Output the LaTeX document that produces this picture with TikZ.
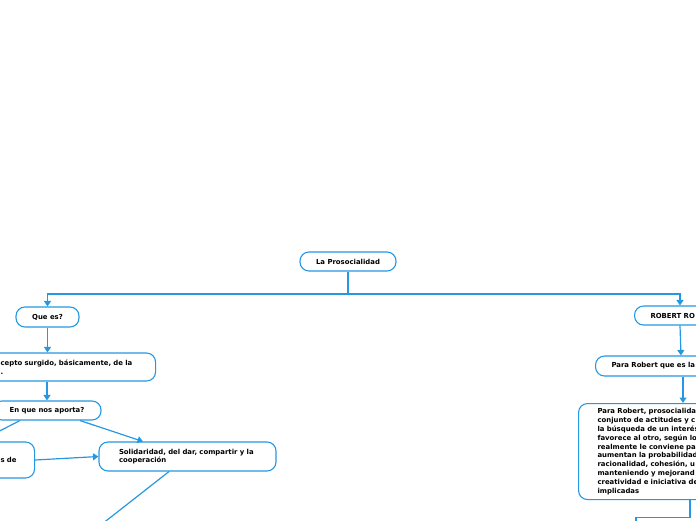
\documentclass[tikz,border=0pt]{standalone}
\usepackage{fontspec}
\setmainfont{DejaVu Sans}
\usetikzlibrary{arrows.meta}
\definecolor{mapblue}{RGB}{38,152,226}
\begin{document}
\begin{tikzpicture}[
  x=1pt, y=-1pt,
  font=\fontsize{6.9}{8.8}\selectfont\bfseries,
  box/.style={draw=mapblue, fill=white, line width=1.1pt, rounded corners=9pt,
              minimum height=19pt, inner ysep=2pt},
  leftbox/.style={box, align=left},
  flow/.style={-{Triangle[length=5.5pt, width=7pt]}, draw=mapblue, line width=1.2pt},
  link/.style={draw=mapblue, line width=1.2pt}
]
  \useasboundingbox (0,0) rectangle (696,520);
  \node[box, minimum width=96] (root) at (348,261.5) {La Prosocialidad};
  \node[box, minimum width=63, minimum height=20] (quees) at (47.5,317) {Que es?};
  \node[leftbox, anchor=west, minimum height=28, text width=145, inner xsep=10] (concepto) at (-10,367) {cepto surgido, básicamente, de la\\.};
  \node[box, minimum width=108] (aporta) at (47,410.5) {En que nos aporta?};
  \node[leftbox, anchor=west, minimum height=36, text width=24, inner xsep=10] (valores) at (-10,460) {s de};
  \node[leftbox, minimum height=29, text width=137, inner xsep=20] (solidaridad) at (187.5,456.5) {Solidaridad, del dar, compartir y la\\cooperación};
  \node[leftbox, anchor=west, text width=80, inner xsep=16] (robert) at (634,315.5) {ROBERT RO};
  \node[leftbox, anchor=west, minimum height=20, text width=100, inner xsep=16] (pararobert) at (595,366) {Para Robert que es la};
  \node[leftbox, anchor=north west, minimum height=96, text width=120, inner xsep=19] (definicion) at (578,403) {Para Robert, prosocialida\\conjunto de actitudes y c\\la búsqueda de un interés\\favorece al otro, según lo\\realmente le conviene pa\\aumentan la probabilidad\\racionalidad, cohesión, u\\manteniendo y mejorand\\creatividad e iniciativa de\\implicadas};
  \coordinate (hub) at (348,294);
  \coordinate (izq) at (-20,441);
  \coordinate (abajo) at (88,535);
  \coordinate (sigue) at (636,535);
  \draw[link] (root.south) -- (hub);
  \draw[flow] (hub) -| (quees.north);
  \draw[flow] (hub) -| ([xshift=46pt]robert.north west);
  \draw[flow] (quees.south) -- (quees.south |- concepto.north);
  \draw[flow] (aporta.north |- concepto.south) -- (aporta.north);
  \draw[flow] ([xshift=-27pt]aporta.south) -- (izq);
  \draw[flow] ([xshift=33pt]aporta.south) -- ([xshift=-44.5pt]solidaridad.north);
  \draw[flow] (valores.east) -- (solidaridad.west);
  \draw[flow] ([xshift=-18.5pt]solidaridad.south) -- (abajo);
  \draw[flow] ([xshift=46pt]robert.south west) -- ([xshift=86pt]pararobert.north west);
  \draw[flow] ([xshift=88pt]pararobert.south west) -- ([xshift=105pt]definicion.north west);
  \draw[flow] ([xshift=112pt]definicion.south west) -- ++(0,17) -| (sigue);
\end{tikzpicture}
\end{document}
